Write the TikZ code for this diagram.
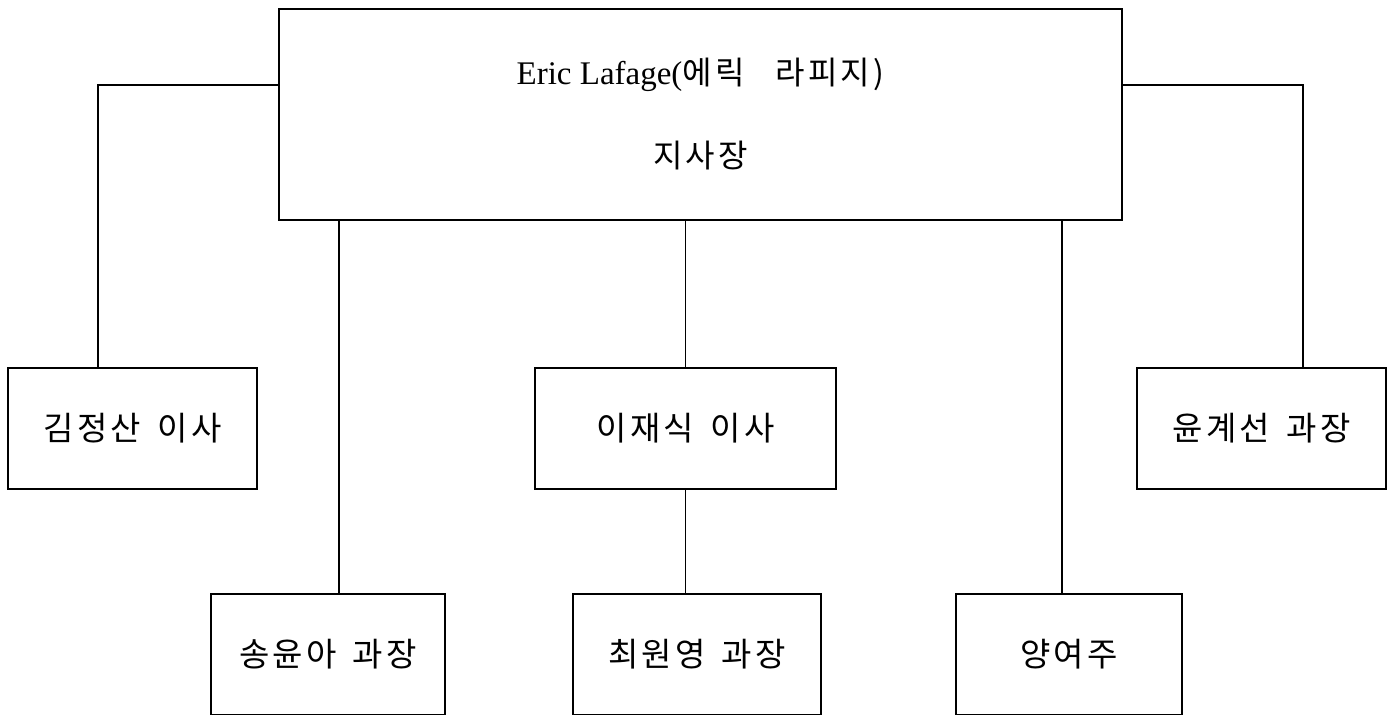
\documentclass[tikz,border=0pt]{standalone}
\usepackage{fontspec}
\setmainfont{Liberation Serif}
\newfontfamily\kr[WordSpace=1.5,LetterSpace=10]{Noto Sans CJK KR}
\begin{document}
\begin{tikzpicture}[x=1pt,y=-1pt,
  box/.style={draw, line width=1.8pt, inner sep=0pt, minimum height=121pt, align=center,
    font=\kr\fontsize{33}{40}\selectfont},
  conn/.style={line width=1.8pt}]
\useasboundingbox (0,0) rectangle (1390,715);
\clip (0,0) rectangle (1390,715);
\node[box, minimum width=843pt, minimum height=211pt, align=center,
  font=\kr\fontsize{32}{83}\selectfont] (top) at (700.5,114.5)
  {{\rmfamily\fontsize{33}{83}\selectfont Eric Lafage(}에릭~ 라피지)\\
   지사장};
\node[box, minimum width=249pt] (kim) at (132.5,428.5) {김정산 이사};
\node[box, minimum width=301pt] (lee) at (685.5,428.5) {이재식 이사};
\node[box, minimum width=249pt] (yoon) at (1261.5,428.5) {윤계선 과장};
\node[box, minimum width=234pt] (song) at (328,654.5) {송윤아 과장};
\node[box, minimum width=248pt] (choi) at (697,654.5) {최원영 과장};
\node[box, minimum width=226pt] (yang) at (1069,654.5) {양여주};
\coordinate (lk) at (98,85);
\coordinate (rk) at (1303,85);
\coordinate (c1) at (339,0);
\coordinate (c3) at (1062,0);
\draw[conn] (top.west |- lk) -- (lk) -- (lk |- kim.north);
\draw[conn] (top.east |- rk) -- (rk) -- (rk |- yoon.north);
\draw[conn] (c1 |- top.south) -- (c1 |- song.north);
\draw[conn] (lee.north |- top.south) -- (lee.north);
\draw[conn] (lee.south) -- (lee.south |- choi.north);
\draw[conn] (c3 |- top.south) -- (c3 |- yang.north);
\end{tikzpicture}
\end{document}
